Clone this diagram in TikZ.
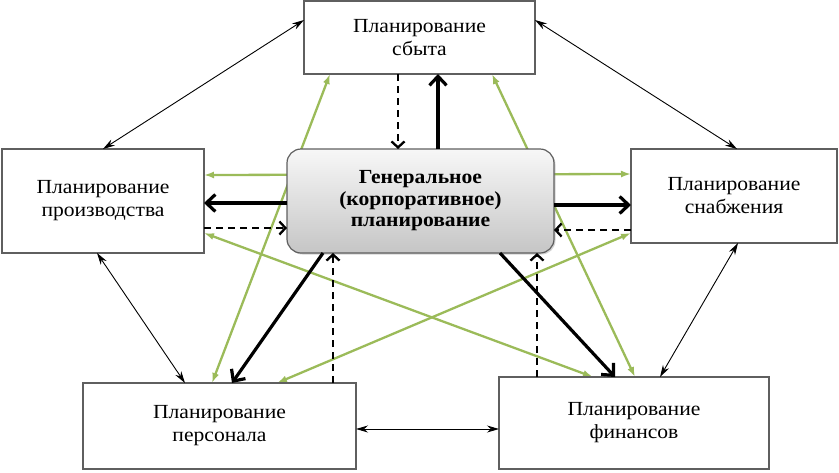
\documentclass[tikz,border=0pt]{standalone}
\usepackage{fontspec}
\setmainfont{Liberation Serif}[FakeStretch=1.08]
\usetikzlibrary{arrows.meta,shadows}
\pgfdeclarelayer{background}
\pgfsetlayers{background,main}
\definecolor{olivegreen}{RGB}{155,187,89}
\definecolor{boxline}{RGB}{95,95,95}
\begin{document}
\begin{tikzpicture}[x=1pt,y=-1pt,
  plainbox/.style={draw=boxline,line width=1.2pt,fill=white,inner sep=0pt,outer sep=0pt,
    align=center,font=\fontsize{20}{23}\selectfont},
  genbox/.style={draw=boxline,line width=1.2pt,rounded corners=14pt,inner sep=0pt,outer sep=0pt,
    top color=gray!6,bottom color=gray!45,align=center,
    drop shadow={shadow xshift=1.5pt,shadow yshift=-1.5pt,opacity=0.35},
    font=\bfseries\fontsize{20}{21.5}\selectfont},
  thinlink/.style={line width=0.9pt,{Stealth[length=12pt,width=7pt]}-{Stealth[length=12pt,width=7pt]}},
  mainflow/.style={line width=3.2pt,-{Straight Barb[length=9pt,width=17pt]}},
  feedback/.style={line width=2.3pt,dash pattern=on 7pt off 5pt,-{Straight Barb[length=6pt,width=13pt]}},
  greenlink/.style={draw=olivegreen,line width=2.3pt,{Latex[length=10pt,width=7pt]}-{Latex[length=10pt,width=7pt]}}
]
\useasboundingbox (0,0) rectangle (839,472);

\node[plainbox,minimum width=231pt,minimum height=73pt] (sales) at (419.5,37.5) {Планирование\\сбыта};
\node[plainbox,minimum width=202pt,minimum height=104pt] (prod) at (103,201) {Планирование\\производства};
\node[plainbox,minimum width=206pt,minimum height=94pt] (supply) at (734,196) {Планирование\\снабжения};
\node[plainbox,minimum width=273pt,minimum height=86pt] (pers) at (219.5,426) {Планирование\\персонала};
\node[plainbox,minimum width=270pt,minimum height=92pt] (fin) at (634,423) {Планирование\\финансов};
\node[genbox,minimum width=267pt,minimum height=104pt] (gen) at (420.5,201) {Генеральное\\(корпоративное)\\планирование};

% green links behind the central box
\begin{pgfonlayer}{background}
\draw[greenlink] ([xshift=-89.5pt]sales.south) -- ([xshift=-7.5pt]pers.north);
\draw[greenlink] ([xshift=72.5pt]sales.south) -- ([xshift=1pt]fin.north);
\draw[greenlink] ([yshift=26pt]prod.east) -- ([yshift=22pt]supply.west);
\draw[greenlink] ([yshift=-32pt]prod.east) -- ([xshift=-41pt]fin.north);
\draw[greenlink] ([yshift=-37pt]supply.west) -- ([xshift=57.5pt]pers.north);
\end{pgfonlayer}

% thin two-way links between outer boxes
\draw[thinlink] ([yshift=17.5pt]sales.west) -- (prod.north);
\draw[thinlink] ([yshift=17.5pt]sales.east) -- ([xshift=3pt]supply.north);
\draw[thinlink] ([xshift=-6pt]prod.south) -- ([xshift=-34.5pt]pers.north);
\draw[thinlink] ([xshift=4pt]supply.south) -- ([xshift=26pt]fin.north);
\draw[thinlink] ([yshift=-3pt]pers.east) -- ([yshift=-6pt]fin.west);

% main flows from general planning
\draw[mainflow] ([xshift=17.5pt]gen.north) -- ([xshift=18.5pt]sales.south);
\draw[mainflow] ([yshift=-2pt]gen.west) -- ([yshift=-2pt]prod.east);
\draw[mainflow] ([yshift=-4pt]gen.east) -- ([yshift=-9pt]supply.west);
\draw[mainflow] ([xshift=-97.5pt]gen.south) -- ([xshift=12.5pt]pers.north);
\draw[mainflow] ([xshift=79.5pt]gen.south) -- ([xshift=-19pt]fin.north);

% feedback flows
\draw[feedback] ([xshift=-21.5pt]sales.south) -- ([xshift=-22.5pt]gen.north);
\draw[feedback] ([yshift=-27pt]prod.east) -- ([yshift=-27pt]gen.west);
\draw[feedback] ([yshift=-34pt]supply.west) -- ([yshift=-29pt]gen.east);
\draw[feedback] ([xshift=113.5pt]pers.north) -- ([xshift=-87.5pt]gen.south);
\draw[feedback] ([xshift=-97pt]fin.north) -- ([xshift=116.5pt]gen.south);
\end{tikzpicture}
\end{document}
